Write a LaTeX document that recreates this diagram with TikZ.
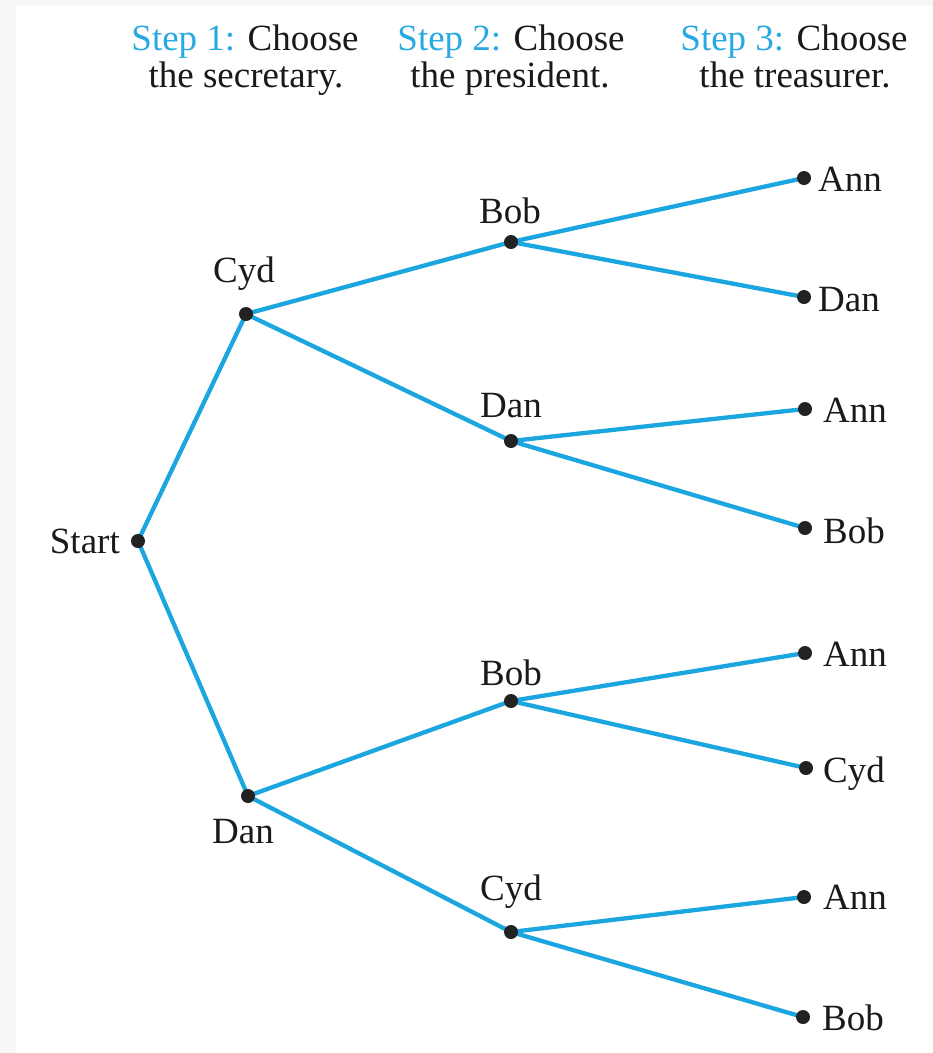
\documentclass[tikz,border=0pt]{standalone}
\usepackage{fontspec}
\setmainfont{Liberation Serif}
\usetikzlibrary{backgrounds}
\definecolor{branch}{HTML}{1CA6E0}
\definecolor{stepblue}{HTML}{29A9E1}
\definecolor{dotcol}{HTML}{222222}
\definecolor{ink}{HTML}{1A1A1A}
\definecolor{frame}{HTML}{F7F7F7}
\tikzset{
  dot/.style={circle,fill=dotcol,inner sep=0pt,minimum size=14pt},
  branchline/.style={draw=branch,line width=4.3pt,line cap=round},
  lbl/.style={inner sep=0pt,text=ink,font=\fontsize{37}{37}\selectfont},
  above lbl/.style={lbl,anchor=base},
  leaf lbl/.style={lbl,anchor=base west},
  head/.style={lbl,anchor=base},
}
\begin{document}
\begin{tikzpicture}[x=1pt,y=-1pt]
\useasboundingbox (0,0) rectangle (933,1053);

% column headings
\node[head] (h1a) at (245,50) {\textcolor{stepblue}{Step 1:} Choose};
\node[head] (h1b) at (246,87) {the secretary.};
\node[head] (h2a) at (511,50) {\textcolor{stepblue}{Step 2:} Choose};
\node[head] (h2b) at (510,87) {the president.};
\node[head] (h3a) at (794,50) {\textcolor{stepblue}{Step 3:} Choose};
\node[head] (h3b) at (795,87) {the treasurer.};

% tree vertices
\node[dot] (start) at (138,541) {};
\node[dot] (sC) at (246,314) {};
\node[dot] (sD) at (248,796) {};
\node[dot] (pB1) at (511,242) {};
\node[dot] (pD) at (511,441) {};
\node[dot] (pB2) at (511,701) {};
\node[dot] (pC) at (511,932) {};
\node[dot] (tA1) at (804,178) {};
\node[dot] (tD) at (804,297) {};
\node[dot] (tA2) at (805,409) {};
\node[dot] (tB1) at (805,528) {};
\node[dot] (tA3) at (805,653) {};
\node[dot] (tC) at (806,768) {};
\node[dot] (tA4) at (804,897) {};
\node[dot] (tB2) at (803,1017) {};

% vertex labels
\node[lbl,anchor=base east] (lStart) at (120,553) {Start};
\node[above lbl] (lsC) at (244,282) {Cyd};
\node[above lbl] (lsD) at (243,843) {Dan};
\node[above lbl] (lpB1) at (510,223) {Bob};
\node[above lbl] (lpD) at (511,417) {Dan};
\node[above lbl] (lpB2) at (511,685) {Bob};
\node[above lbl] (lpC) at (511,900) {Cyd};
\node[leaf lbl] (ltA1) at (818,191) {Ann};
\node[leaf lbl] (ltD) at (818,311) {Dan};
\node[leaf lbl] (ltA2) at (823,422) {Ann};
\node[leaf lbl] (ltB1) at (823,543) {Bob};
\node[leaf lbl] (ltA3) at (823,666) {Ann};
\node[leaf lbl] (ltC) at (823,782) {Cyd};
\node[leaf lbl] (ltA4) at (823,909) {Ann};
\node[leaf lbl] (ltB2) at (822,1030) {Bob};

\begin{pgfonlayer}{background}
  % page frame
  \fill[frame] (0,0) rectangle (933,1053);
  \fill[white] (16,6) rectangle (933,1053);
  % branches
  \path[branchline] (start.center) -- (sC.center);
  \path[branchline] (start.center) -- (sD.center);
  \path[branchline] (sC.center) -- (pB1.center);
  \path[branchline] (sC.center) -- (pD.center);
  \path[branchline] (sD.center) -- (pB2.center);
  \path[branchline] (sD.center) -- (pC.center);
  \path[branchline] (pB1.center) -- (tA1.center);
  \path[branchline] (pB1.center) -- (tD.center);
  \path[branchline] (pD.center) -- (tA2.center);
  \path[branchline] (pD.center) -- (tB1.center);
  \path[branchline] (pB2.center) -- (tA3.center);
  \path[branchline] (pB2.center) -- (tC.center);
  \path[branchline] (pC.center) -- (tA4.center);
  \path[branchline] (pC.center) -- (tB2.center);
\end{pgfonlayer}
\end{tikzpicture}
\end{document}
